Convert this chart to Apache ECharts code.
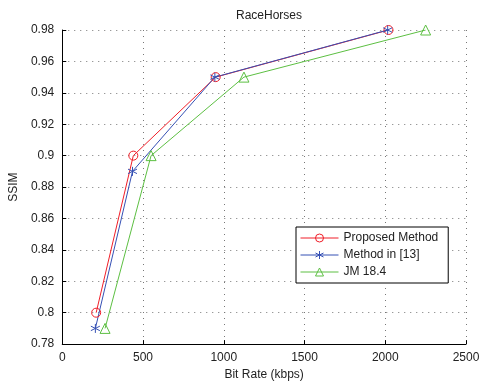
<!DOCTYPE html>
<html>
<head>
<meta charset="utf-8">
<script src="https://cdn.jsdelivr.net/npm/echarts@6/dist/echarts.min.js"></script>
<style>
  html, body { margin: 0; padding: 0; background: #fff; }
  #chart { width: 483px; height: 386px; }
</style>
</head>
<body>
<div id="chart"></div>
<script>
const proposedRate = [210, 440, 950, 2020];
const proposedSsim = [0.80, 0.90, 0.95, 0.98];
const method13Rate = [205, 435, 945, 2015];
const method13Ssim = [0.79, 0.89, 0.95, 0.98];
const jmRate = [265, 550, 1125, 2250];
const jmSsim = [0.79, 0.90, 0.95, 0.98];
const seriesNames = ['Proposed Method', 'Method in [13]', 'JM 18.4'];

const pairs = (xs, ys) => xs.map((x, i) => [x, ys[i]]);
const asterisk = 'path://M0,-5L0,5M-4.3,-2.5L4.3,2.5M-4.3,2.5L4.3,-2.5';
const font = 'Liberation Sans, Arial, sans-serif';

const chart = echarts.init(document.getElementById('chart'));

function line(name, data, color, symbol, size) {
    return {
        name: name,
        type: 'line',
        data: data,
        symbol: symbol,
        symbolSize: size,
        showAllSymbol: true,
        lineStyle: { color: color, width: 1 },
        itemStyle: { color: 'rgba(0,0,0,0)', borderColor: color, borderWidth: 1 },
        emphasis: { disabled: true },
        animation: false
    };
}

const axisCommon = {
    axisLine: { onZero: false, lineStyle: { color: '#000', width: 1 } },
    axisTick: { inside: true, length: 4, lineStyle: { color: '#000' } },
    splitLine: { show: true, lineStyle: { color: '#777', type: [1, 5], width: 1 } },
    axisLabel: { color: '#222', fontSize: 12, fontFamily: font },
    nameTextStyle: { color: '#222', fontSize: 12, fontFamily: font }
};

chart.setOption({
    backgroundColor: '#fff',
    title: {
        text: 'RaceHorses',
        left: 264,
        top: 5,
        textAlign: 'center',
        textStyle: { fontSize: 12, fontWeight: 'normal', color: '#222', fontFamily: font }
    },
    grid: { left: 62, right: 17, top: 30, bottom: 38 },
    legend: {
        data: seriesNames,
        orient: 'vertical',
        left: 296,
        top: 227,
        itemWidth: 38,
        itemHeight: 10,
        itemGap: 5,
        padding: [5, 10, 5, 4],
        borderColor: '#000',
        borderWidth: 1,
        backgroundColor: '#fff',
        lineStyle: { width: 1 },
        itemStyle: { borderWidth: 1 },
        textStyle: { fontSize: 12, color: '#222', fontFamily: font }
    },
    xAxis: Object.assign({}, axisCommon, {
        type: 'value',
        min: 0,
        max: 2500,
        interval: 500,
        name: 'Bit Rate (kbps)',
        nameLocation: 'middle',
        nameGap: 23,
        axisLabel: Object.assign({}, axisCommon.axisLabel, {
            formatter: v => String(v)
        })
    }),
    yAxis: Object.assign({}, axisCommon, {
        type: 'value',
        min: 0.78,
        max: 0.98,
        interval: 0.02,
        name: 'SSIM',
        nameLocation: 'middle',
        nameGap: 36,
        axisLabel: Object.assign({}, axisCommon.axisLabel, {
            formatter: v => String(+v.toFixed(2))
        })
    }),
    series: [
        line(seriesNames[0], pairs(proposedRate, proposedSsim), '#f01e28', 'circle', 9),
        line(seriesNames[1], pairs(method13Rate, method13Ssim), '#3550b4', asterisk, 9),
        line(seriesNames[2], pairs(jmRate, jmSsim), '#5cbf42', 'triangle', 10)
    ]
});
</script>
</body>
</html>
